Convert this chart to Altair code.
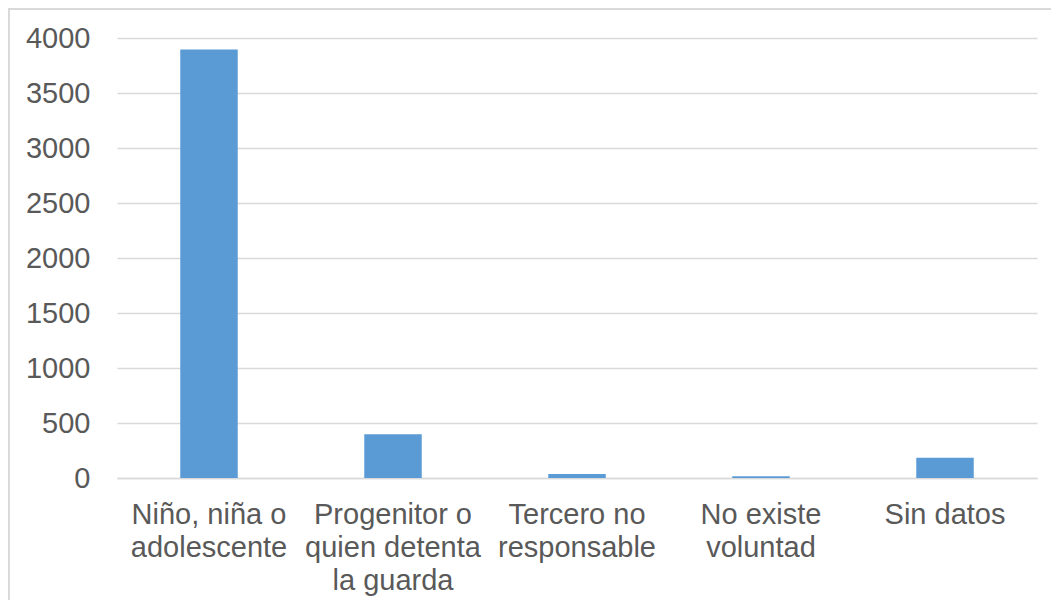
import altair as alt
import pandas as pd

categories = [
    "Niño, niña o\nadolescente",
    "Progenitor o\nquien detenta\nla guarda",
    "Tercero no\nresponsable",
    "No existe\nvoluntad",
    "Sin datos",
]
values = [3895, 397, 36, 15, 185]
y_ticks = [0, 500, 1000, 1500, 2000, 2500, 3000, 3500, 4000]

df = pd.DataFrame({"cat": categories, "val": values})

bars = alt.Chart(df).mark_bar(color="#5B9BD5").encode(
    x=alt.X(
        "cat:N",
        sort=categories,
        title=None,
        scale=alt.Scale(paddingInner=0.6875, paddingOuter=0.34375),
        axis=alt.Axis(
            labelAngle=0,
            labelExpr="split(datum.label, '\\n')",
            labelFontSize=29,
            labelLineHeight=33,
            labelColor="#595959",
            labelFont="Liberation Sans",
            labelPadding=22,
            ticks=False,
            domainColor="#D9D9D9",
            domainWidth=1.5,
            labelAlign="center",
            labelBaseline="top",
        ),
    ),
    y=alt.Y(
        "val:Q",
        title=None,
        scale=alt.Scale(domain=[0, 4000], nice=False),
        axis=alt.Axis(
            values=y_ticks,
            format="d",
            labelFontSize=29,
            labelColor="#595959",
            labelFont="Liberation Sans",
            labelPadding=27,
            ticks=False,
            domain=False,
            gridColor="#D9D9D9",
            gridWidth=1.5,
        ),
    ),
)

top_border = alt.Chart(df).mark_rule(color="#D9D9D9", strokeWidth=2).encode(
    x=alt.value(-109), x2=alt.value(940), y=alt.value(-29)
)
left_border = alt.Chart(df).mark_rule(color="#D9D9D9", strokeWidth=2).encode(
    x=alt.value(-108.5), y=alt.value(-30), y2=alt.value(570)
)

chart = (
    alt.layer(bars, top_border, left_border)
    .properties(
        width=920,
        height=440,
        autosize=alt.AutoSizeParams(type="none"),
        padding={"left": 109, "top": 30, "right": 14, "bottom": 122},
        background="white",
    )
    .configure_view(stroke=None)
)

chart.save("out.html", embed_options={"renderer": "svg", "actions": False})
